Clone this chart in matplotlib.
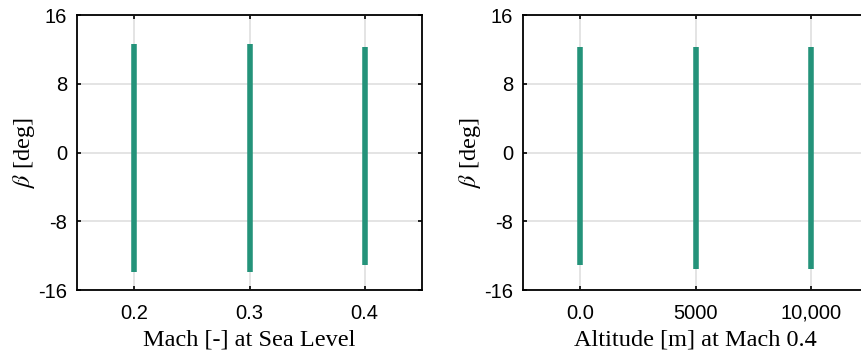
import matplotlib as mpl
import matplotlib.pyplot as plt

mpl.rcParams.update(
    {
        "font.family": "sans-serif",
        "font.sans-serif": ["Liberation Sans", "DejaVu Sans"],
        "mathtext.fontset": "stix",
        "axes.unicode_minus": False,
        "axes.linewidth": 1.0,
    }
)

# --- data ---
mach = [0.2, 0.3, 0.4]
beta_min_mach = [-13.9, -13.9, -13.1]
beta_max_mach = [12.6, 12.6, 12.3]

altitude = [0, 5000, 10000]
beta_min_alt = [-13.1, -13.5, -13.5]
beta_max_alt = [12.3, 12.3, 12.3]

mach_ticklabels = ["0.2", "0.3", "0.4"]
alt_ticklabels = ["0.0", "5000", "10,000"]
y_ticks = [-16, -8, 0, 8, 16]

BAR_COLOR = "#24937a"
GRID_COLOR = "#dcdcdc"
SERIF = "Liberation Serif"


def panel(ax, x, lo, hi, xticklabels, xlim, xlabel):
    ax.vlines(x, lo, hi, color=BAR_COLOR, lw=4.0, zorder=3)
    ax.set_xlim(*xlim)
    ax.set_ylim(-16, 16)
    ax.set_xticks(x)
    ax.set_xticklabels(xticklabels)
    ax.set_yticks(y_ticks)
    ax.grid(True, color=GRID_COLOR, lw=1.1, zorder=0)
    ax.set_axisbelow(True)
    ax.tick_params(direction="in", length=3, width=1.2, labelsize=14.5,
                   right=True, top=True, pad=7)
    ax.tick_params(axis="x", pad=10)
    ax.set_xlabel(xlabel, family=SERIF, fontsize=17.5, labelpad=5)
    ax.set_ylabel(r"$\beta$ [deg]", family=SERIF, fontsize=17.5, labelpad=1)
    for s in ax.spines.values():
        s.set_linewidth(1.3)


fig = plt.figure(figsize=(8.62, 3.52), dpi=100)
ax0 = fig.add_axes([0.0893, 0.176, 0.4003, 0.781])
ax1 = fig.add_axes([0.6064, 0.176, 0.4013, 0.781])

panel(ax0, mach, beta_min_mach, beta_max_mach, mach_ticklabels,
      (0.15, 0.45), "Mach [-] at Sea Level")
panel(ax1, altitude, beta_min_alt, beta_max_alt, alt_ticklabels,
      (-2500, 12500), "Altitude [m] at Mach 0.4")

fig.savefig("out.png", dpi=100, facecolor="white")
